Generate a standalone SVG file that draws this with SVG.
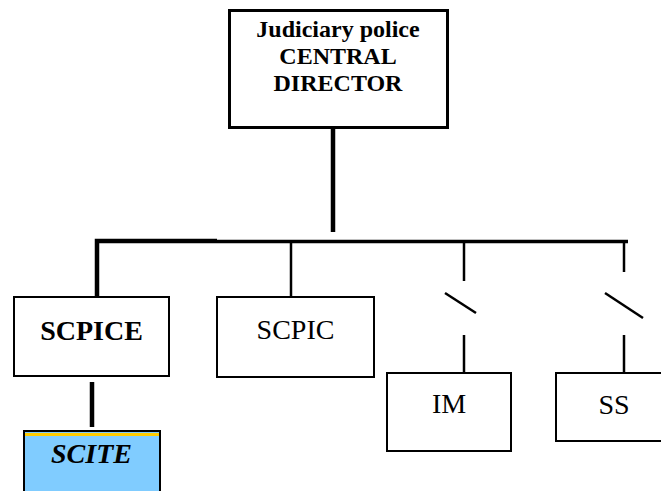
<svg xmlns="http://www.w3.org/2000/svg" width="661" height="491" viewBox="0 0 661 491">
<style>
.box{fill:#fff;stroke:#000;stroke-width:2}
.t{font-family:"Liberation Serif","Times New Roman",serif;font-size:28px;fill:#000;text-anchor:middle}
.b{font-weight:bold}
.c{stroke:#000;fill:none;stroke-linecap:butt}
</style>
<rect width="661" height="491" fill="#fff"/>
<g id="connectors">
<line class="c" x1="333" y1="129" x2="333" y2="232" stroke-width="4.5"/>
<polyline class="c" points="97,297 97,241 217,241" stroke-width="4.5"/>
<line class="c" x1="217" y1="241.5" x2="628" y2="241.5" stroke-width="3.5"/>
<line class="c" x1="291" y1="241" x2="291" y2="297" stroke-width="2.5"/>
<line class="c" x1="464" y1="241" x2="464" y2="281" stroke-width="2.5"/>
<line class="c" x1="445" y1="293" x2="476" y2="313" stroke-width="2.5"/>
<line class="c" x1="464" y1="335" x2="464" y2="373" stroke-width="2.5"/>
<line class="c" x1="624" y1="241" x2="624" y2="272" stroke-width="2.5"/>
<line class="c" x1="605" y1="293" x2="643" y2="318" stroke-width="2.5"/>
<line class="c" x1="624" y1="335" x2="624" y2="373" stroke-width="2.5"/>
<line class="c" x1="92" y1="382" x2="92" y2="427" stroke-width="4.5"/>
</g>
<g id="director">
<rect x="229.5" y="10.5" width="218" height="117" fill="#fff" stroke="#000" stroke-width="3"/>
<text class="t b" x="338" y="37" font-size="24" style="font-size:24px">Judiciary police</text>
<text class="t b" x="338" y="64" style="font-size:24px">CENTRAL</text>
<text class="t b" x="338" y="91" style="font-size:24px">DIRECTOR</text>
</g>
<g id="scpice">
<rect class="box" x="14" y="297" width="155" height="79"/>
<text class="t b" x="91.5" y="340">SCPICE</text>
</g>
<g id="scpic">
<rect class="box" x="217" y="297" width="157" height="80"/>
<text class="t" x="295.5" y="339">SCPIC</text>
</g>
<g id="im">
<rect class="box" x="387" y="373" width="124" height="78"/>
<text class="t" x="449" y="413">IM</text>
</g>
<g id="ss">
<rect class="box" x="556" y="373" width="110" height="68"/>
<text class="t" x="614" y="414">SS</text>
</g>
<g id="scite">
<rect x="24" y="431" width="136" height="70" fill="#80CCFF" stroke="#000" stroke-width="2"/>
<rect x="25" y="433" width="134" height="3" fill="#FFCC00"/>
<text class="t b" x="91.5" y="463" font-style="italic">SCITE</text>
</g>
</svg>
